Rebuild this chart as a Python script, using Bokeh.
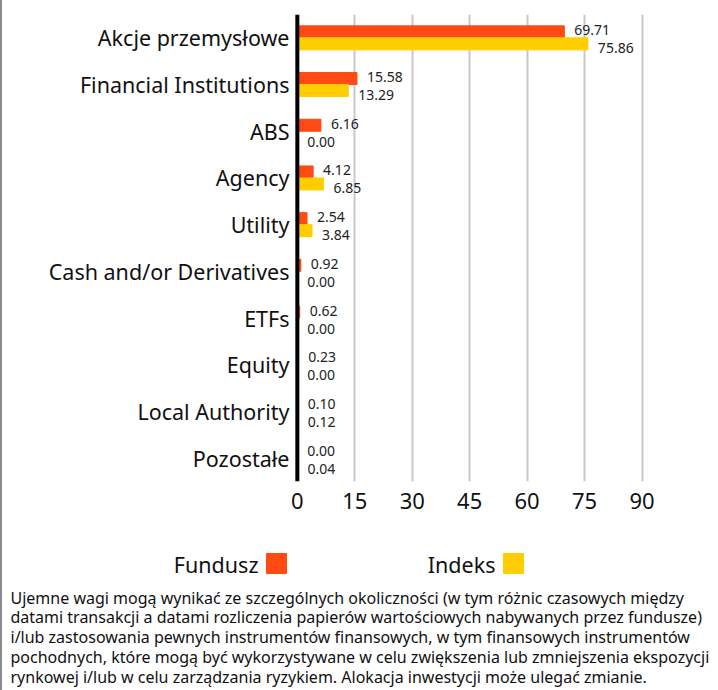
from bokeh.plotting import figure
from bokeh.models import (ColumnDataSource, FactorRange, Range1d, FixedTicker, Span)
from bokeh.core.properties import value
from bokeh.transform import dodge
from bokeh.embed import file_html
from bokeh.resources import INLINE

categories = ["Akcje przemysłowe", "Financial Institutions", "ABS", "Agency", "Utility",
              "Cash and/or Derivatives", "ETFs", "Equity", "Local Authority", "Pozostałe"]
fundusz = [69.71, 15.58, 6.16, 4.12, 2.54, 0.92, 0.62, 0.23, 0.10, 0.00]
indeks = [75.86, 13.29, 0.00, 6.85, 3.84, 0.00, 0.00, 0.00, 0.12, 0.04]
x_ticks = [0, 15, 30, 45, 60, 75, 90]
series_names = ["Fundusz", "Indeks"]
footnote = [
    "Ujemne wagi mogą wynikać ze szczególnych okoliczności (w tym różnic czasowych między",
    "datami transakcji a datami rozliczenia papierów wartościowych nabywanych przez fundusze)",
    "i/lub zastosowania pewnych instrumentów finansowych, w tym finansowych instrumentów",
    "pochodnych, które mogą być wykorzystywane w celu zwiększenia lub zmniejszenia ekspozycji",
    "rynkowej i/lub w celu zarządzania ryzykiem. Alokacja inwestycji może ulegać zmianie.",
]

ORANGE = "#FF4A14"
YELLOW = "#FFCD00"
FONT = "Noto Sans"
TXT = "#111111"
BORDER = {"border-left": "2px solid #8c8c8c"}
W = 716          # figure width (plus 2px left border = 718)
H1, H2 = 530, 160

src = ColumnDataSource(dict(
    cat=categories, fund=fundusz, idx=indeks,
    fund_lbl=[f"{v:.2f}" for v in fundusz],
    idx_lbl=[f"{v:.2f}" for v in indeks],
))

p = figure(
    y_range=FactorRange(*reversed(categories)),
    x_range=Range1d(-1, 99),
    frame_width=383, frame_height=467,
    min_border_left=291, min_border_right=W - 291 - 383,
    min_border_top=14, min_border_bottom=H1 - 14 - 467,
    output_backend="svg", toolbar_location=None, styles=BORDER,
)
p.outline_line_color = None
p.background_fill_color = "white"

BAR_H = 0.257
OFF = 0.1285
p.hbar(y=dodge("cat", OFF, range=p.y_range), left=0, right="fund", height=BAR_H,
       color=ORANGE, source=src)
p.hbar(y=dodge("cat", -OFF, range=p.y_range), left=0, right="idx", height=BAR_H,
       color=YELLOW, source=src)

p.text(x="fund", y=dodge("cat", 0.16, range=p.y_range), text="fund_lbl", source=src,
       x_offset=10, text_baseline="middle", text_align="left",
       text_font_size="14px", text_color="#222222", text_font=value(FONT))
p.text(x="idx", y=dodge("cat", -0.225, range=p.y_range), text="idx_lbl", source=src,
       x_offset=10, text_baseline="middle", text_align="left",
       text_font_size="14px", text_color="#222222", text_font=value(FONT))

p.add_layout(Span(location=0, dimension="height", line_color="black", line_width=4))

p.xaxis.ticker = FixedTicker(ticks=x_ticks)
p.xaxis.axis_line_color = None
p.xaxis.major_tick_line_color = None
p.xaxis.minor_tick_line_color = None
p.xaxis.major_tick_out = 0
p.xaxis.major_label_standoff = 11
p.xaxis.major_label_text_font_size = "22px"
p.xaxis.major_label_text_font = FONT
p.xaxis.major_label_text_color = TXT

p.yaxis.axis_line_color = None
p.yaxis.major_tick_line_color = None
p.yaxis.major_tick_out = 0
p.yaxis.major_label_standoff = 4
p.yaxis.major_label_text_font_size = "21.5px"
p.yaxis.major_label_text_font = FONT
p.yaxis.major_label_text_color = TXT

p.xgrid.ticker = FixedTicker(ticks=x_ticks)
p.xgrid.grid_line_color = "#c8c8c8"
p.xgrid.grid_line_width = 2
p.ygrid.grid_line_color = None

# lower panel: legend and footnote, 1 data unit = 1 pixel
q = figure(width=W, height=H2, x_range=Range1d(0, W), y_range=Range1d(0, H2),
           min_border=0, output_backend="svg", toolbar_location=None, styles=BORDER)
q.axis.visible = False
q.grid.visible = False
q.outline_line_color = None

LEG_Y = H2 - 34
q.text(x=[256, 493], y=[LEG_Y, LEG_Y], text=series_names, text_align="right",
       text_baseline="middle", text_font_size="21.5px", text_font=value(FONT), text_color=TXT)
q.quad(left=[264, 501], right=[284, 521], top=[LEG_Y + 11, LEG_Y + 11],
       bottom=[LEG_Y - 9, LEG_Y - 9], color=[ORANGE, YELLOW])

q.text(x=[8] * len(footnote), y=[H2 - 67 - 19.8 * i for i in range(len(footnote))],
       text=footnote, text_align="left", text_baseline="middle",
       text_font_size="16px", text_font=value(FONT), text_color=TXT)

open("out.html", "w").write(file_html([p, q], INLINE))
